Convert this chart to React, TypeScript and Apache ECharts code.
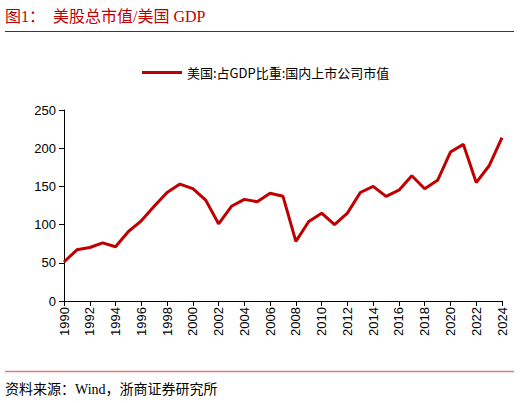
import { useEffect, useRef } from "react";
import * as echarts from "echarts";

const years = [
  "1990", "1991", "1992", "1993", "1994", "1995", "1996", "1997", "1998", "1999",
  "2000", "2001", "2002", "2003", "2004", "2005", "2006", "2007", "2008", "2009",
  "2010", "2011", "2012", "2013", "2014", "2015", "2016", "2017", "2018", "2019",
  "2020", "2021", "2022", "2023", "2024",
];

const ratio = [
  51, 67, 70, 76, 71, 91, 105, 124, 142, 153,
  147, 132, 101, 124, 133, 130, 141, 137, 78, 104,
  115, 100, 115, 142, 150, 137, 145, 164, 147, 158,
  195, 205, 155, 177, 214,
];

const seriesName = "美国:占GDP比重:国内上市公司市值";
const RED = "#c00000";

const App = () => {
  const chartRef = useRef<HTMLDivElement>(null);

  useEffect(() => {
    if (!chartRef.current) return;
    const chart = echarts.init(chartRef.current, undefined, { renderer: "svg" });

    const option: echarts.EChartsOption = {
      animation: false,
      backgroundColor: "#fff",
      textStyle: { fontFamily: "'Liberation Sans', Arial, 'Noto Sans CJK SC'" },
      graphic: [
        {
          type: "text",
          left: 5,
          top: 8,
          style: {
            text: "图1：  美股总市值/美国 GDP",
            fill: RED,
            font: "16px 'Liberation Serif', 'Noto Sans CJK SC'",
          },
        },
        {
          type: "line",
          shape: { x1: 5, y1: 31.5, x2: 514, y2: 31.5 },
          style: { stroke: RED, lineWidth: 1 },
        },
        {
          type: "line",
          shape: { x1: 5, y1: 371.5, x2: 514, y2: 371.5 },
          style: { stroke: "#e07c7c", lineWidth: 1.5 },
        },
        {
          type: "text",
          left: 5,
          top: 382,
          style: {
            text: "资料来源：Wind，浙商证券研究所",
            fill: "#000",
            font: "14px 'Liberation Serif', 'Noto Sans CJK SC'",
          },
        },
      ],
      legend: {
        top: 66,
        left: 142,
        padding: 0,
        itemWidth: 40,
        itemHeight: 3,
        itemGap: 4,
        icon: "rect",
        textStyle: {
          fontSize: 13,
          color: "#000",
          fontFamily: "'Noto Sans CJK SC'",
        },
        data: [seriesName],
      },
      grid: { left: 64, right: 18, top: 110, bottom: 102, containLabel: false },
      xAxis: {
        type: "category",
        data: years,
        boundaryGap: false,
        axisLine: { lineStyle: { color: "#000", width: 1 } },
        axisTick: { interval: 1, length: 5, lineStyle: { color: "#000" } },
        axisLabel: {
          interval: 1,
          rotate: 90,
          color: "#000",
          fontSize: 13,
          margin: 6,
        },
      },
      yAxis: {
        type: "value",
        min: 0,
        max: 250,
        interval: 50,
        axisLine: { show: true, lineStyle: { color: "#000", width: 1 } },
        axisTick: { show: true, length: 5, lineStyle: { color: "#000" } },
        axisLabel: { color: "#000", fontSize: 13, margin: 8 },
        splitLine: { show: false },
      },
      series: [
        {
          name: seriesName,
          type: "line",
          data: ratio,
          symbol: "none",
          lineStyle: { color: RED, width: 3 },
          itemStyle: { color: RED },
        },
      ],
    };

    chart.setOption(option);
    return () => {
      chart.dispose();
    };
  }, []);

  return (
    <div
      ref={chartRef}
      style={{ position: "fixed", left: 0, top: 0, width: 520, height: 403 }}
    />
  );
};

export default App;
